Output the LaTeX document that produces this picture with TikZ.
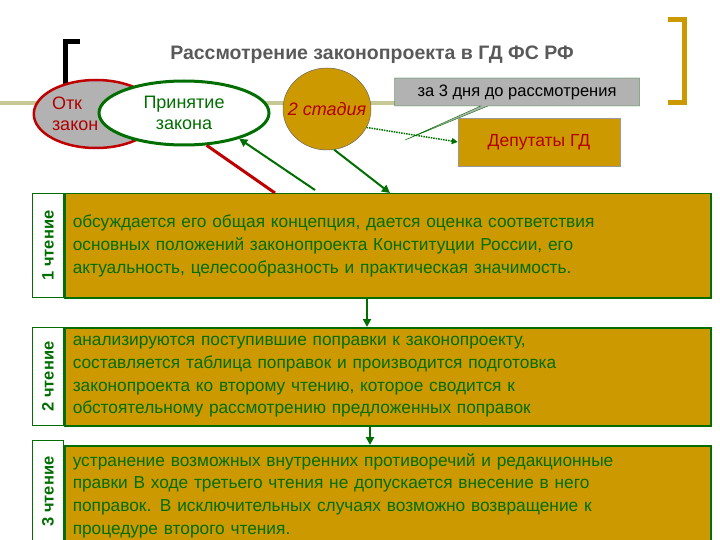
\documentclass[tikz,border=0pt]{standalone}
\usepackage{fontspec}
\setmainfont{Liberation Sans}
\usetikzlibrary{shapes.callouts,shapes.geometric,arrows.meta}
\definecolor{gold}{RGB}{204,153,0}
\definecolor{dgreen}{RGB}{0,110,0}
\definecolor{olive}{RGB}{200,200,150}
\begin{document}
\begin{tikzpicture}[x=1pt,y=-1pt,
  body/.style={draw=dgreen,line width=1.5pt,fill=gold,anchor=north west,minimum width=641,text width=630,align=left,inner xsep=8,font=\fontsize{17.3}{22.8}\selectfont,text=dgreen},
  lab/.style={draw=dgreen,line width=1pt,fill=white,anchor=north west,minimum width=31},
  labt/.style={rotate=90,text=dgreen,font=\bfseries\fontsize{16.5}{18}\selectfont},
  garrow/.style={draw=dgreen,line width=2pt,-{Triangle[length=8pt,width=8pt]}}]
\useasboundingbox (0,0) rectangle (720,540);
% brackets
\draw[line width=5pt] (80,42) -- (65,42) -- (65,97);
\draw[gold,line width=5pt] (668,20) -- (684,20) -- (684,103) -- (668,103);
\node[font=\bfseries\fontsize{19.5}{22}\selectfont,text=black!65] (title) at (372,55) {Рассмотрение законопроекта в ГД ФС РФ};
\draw[olive,line width=4pt] (0,103) -- (450,103);
% ellipses
\node[draw=red!75!black,line width=2.5pt,fill=black!30,ellipse,minimum width=110,minimum height=68,inner sep=0,text=red!70!black,font=\fontsize{18}{21}\selectfont,text width=88,align=left] (otk) at (96,114) {Отк\\закон};
\node[draw=dgreen,line width=3pt,fill=white,ellipse,minimum width=170,minimum height=64,inner sep=0,text width=100,text=dgreen,font=\fontsize{18}{21}\selectfont,align=center] (prin) at (184,113) {Принятие\\закона};
\node[draw=black!60,line width=0.5pt,fill=gold,ellipse,minimum width=88,minimum height=82,inner sep=0,text width=1,text=red!70!black,font=\itshape\fontsize{18}{20}\selectfont] (st) at (327,109) {};
\node[text=red!70!black,font=\itshape\fontsize{18}{20}\selectfont] at (st.center) {2 стадия};
\node[rectangle callout,draw=dgreen,fill=black!30,callout absolute pointer={(405,140)},minimum width=245,minimum height=28,inner sep=0,font=\fontsize{16.5}{18}\selectfont] (cal) at (517,92) {за 3 дня до рассмотрения};
\node[draw=black!40,fill=gold,minimum width=162,minimum height=48,text=red!70!black,font=\fontsize{17.5}{20}\selectfont] (dep) at (539,142) {Депутаты ГД};
\draw[dgreen,densely dotted,line width=1.5pt,-{Triangle[length=6pt,width=6pt]}] (st.-25) -- (dep.west);
% boxes
\node[body,minimum height=104] (b1) at (64,193) {обсуждается его общая концепция, дается оценка соответствия\\ основных положений законопроекта Конституции России, его\\ актуальность, целесообразность и практическая значимость.};
\node[lab,minimum height=104] (l1) at (32,193) {};
\node[labt] at (l1.center) {1 чтение};
\node[body,minimum height=98] (b2) at (64,327) {анализируются поступившие поправки к законопроекту,\\ составляется таблица поправок и производится подготовка\\ законопроекта ко второму чтению, которое сводится к\\ обстоятельному рассмотрению предложенных поправок};
\node[lab,minimum height=98] (l2) at (32,327) {};
\node[labt] at (l2.center) {2 чтение};
\node[body,minimum height=100,inner ysep=4] (b3) at (64,445) {устранение возможных внутренних противоречий и редакционные\\ правки В ходе третьего чтения не допускается внесение в него\\ поправок. В исключительных случаях возможно возвращение к\\ процедуре второго чтения.};
\node[lab,minimum height=102] (l3) at (32,440) {};
\node[labt] at (l3.center) {3 чтение};
% arrows
\draw[red!75!black,line width=3pt] (prin.-55) -- (b1.north -| 275,0);
\coordinate (g1) at (315,190);
\draw[garrow] (g1) -- (prin.-25);
\draw[garrow] (st.-80) -- (b1.north -| 390,0);
\draw[garrow] (b1.south -| 367,0) -- (b2.north -| 367,0);
\draw[garrow] (b2.south -| 370,0) -- (b3.north -| 370,0);
\end{tikzpicture}
\end{document}
